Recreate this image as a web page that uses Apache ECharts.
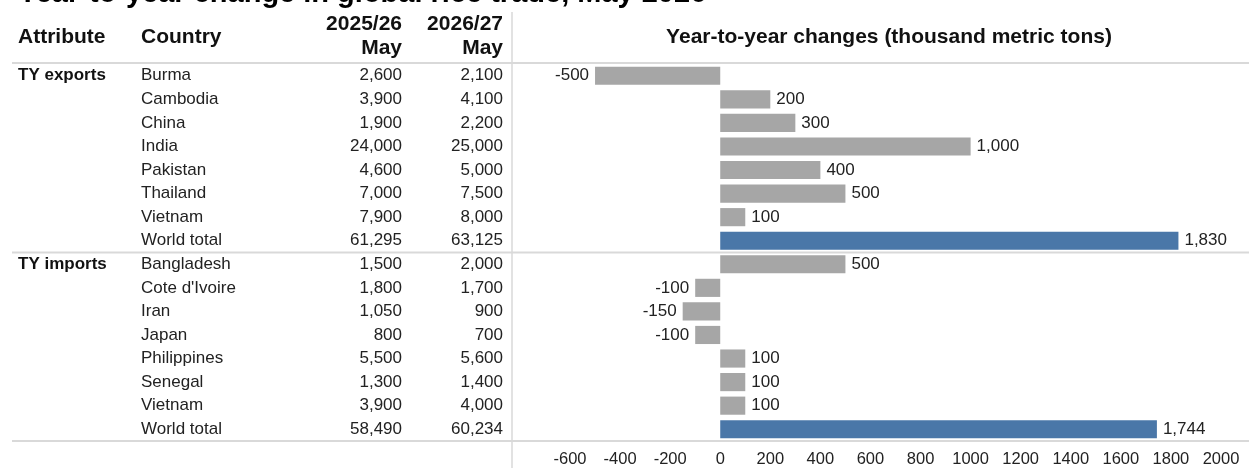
<!DOCTYPE html>
<html><head><meta charset="utf-8">
<script src="https://cdn.jsdelivr.net/npm/echarts@6/dist/echarts.min.js"></script>
<style>html,body{margin:0;padding:0;background:#fff}#c{width:1249px;height:468px}</style>
</head><body><div id="c"></div>
<script>
const titleText = 'Year-to-year change in global rice trade, May 2026';
const attributes = ['TY exports','','','','','','','','TY imports','','','','','','',''];
const countries = ['Burma','Cambodia','China','India','Pakistan','Thailand','Vietnam','World total',
  'Bangladesh',"Cote d'Ivoire",'Iran','Japan','Philippines','Senegal','Vietnam','World total'];
const may2526 = [2600,3900,1900,24000,4600,7000,7900,61295,1500,1800,1050,800,5500,1300,3900,58490];
const may2627 = [2100,4100,2200,25000,5000,7500,8000,63125,2000,1700,900,700,5600,1400,4000,60234];
const changes = [-500,200,300,1000,400,500,100,1830,500,-100,-150,-100,100,100,100,1744];
const totalRows = [7,15];
const xTicks = [-600,-400,-200,0,200,400,600,800,1000,1200,1400,1600,1800,2000];

const FONT = '"Liberation Sans", Arial, sans-serif';
const fmt = v => v.toLocaleString('en-US');
const GRID_LEFT = 570;
const chart = echarts.init(document.getElementById('c'), null, {renderer:'canvas'});

function catAxis(margin, align, formatter, extra) {
  return Object.assign({
    type:'category', data:countries, inverse:true, position:'left',
    axisLine:{show:false}, axisTick:{show:false}, splitLine:{show:false},
    axisLabel:{margin:margin, align:align, formatter:formatter, color:'#222',
      fontFamily:FONT, fontSize:17, interval:0}
  }, extra||{});
}

chart.setOption({
  animation:false,
  grid:{left:GRID_LEFT, right:28, top:64, bottom:27, containLabel:false},
  xAxis:{type:'value', min:xTicks[0], max:xTicks[xTicks.length-1], interval:200,
    axisLine:{show:false}, axisTick:{show:false}, splitLine:{show:false},
    axisLabel:{color:'#222', fontFamily:FONT, fontSize:16.5, margin:10, formatter:v=>String(v)}},
  yAxis:[
    catAxis(GRID_LEFT-141, 'left', (v,i)=>countries[i]),
    catAxis(GRID_LEFT-402, 'right', (v,i)=>fmt(may2526[i])),
    catAxis(GRID_LEFT-503, 'right', (v,i)=>fmt(may2627[i])),
    catAxis(GRID_LEFT-18, 'left', (v,i)=>attributes[i], {axisLabel:{margin:GRID_LEFT-18, align:'left',
      formatter:(v,i)=>attributes[i], color:'#111', fontWeight:'bold', fontFamily:FONT, fontSize:17, interval:0}})
  ],
  series:[{
    type:'bar', yAxisIndex:0, barWidth:'77%',
    data:changes.map((v,i)=>({value:v,
      itemStyle:{color: totalRows.includes(i) ? '#4a77a8' : '#a6a6a6'},
      label:{position: v<0 ? 'left' : 'right'}})),
    label:{show:true, distance:6, color:'#222', fontFamily:FONT, fontSize:17,
      formatter:p=>fmt(p.value)}
  }]
});

const yTop = chart.convertToPixel({yAxisIndex:0}, 0) ;
const yRow7 = chart.convertToPixel({yAxisIndex:0}, 7);
const yRow8 = chart.convertToPixel({yAxisIndex:0}, 8);
const yRow15 = chart.convertToPixel({yAxisIndex:0}, 15);
const half = (yRow8 - yRow7)/2;
const lineStyle = {stroke:'#d9d9d9', lineWidth:2};
const hdr = {fontFamily:FONT, fontWeight:'bold', fontSize:21, fill:'#111'};
chart.setOption({graphic:[
  {type:'line', shape:{x1:12,y1:yTop-half-1,x2:1249,y2:yTop-half-1}, style:lineStyle, silent:true},
  {type:'line', shape:{x1:12,y1:yRow7+half,x2:1249,y2:yRow7+half}, style:lineStyle, silent:true},
  {type:'line', shape:{x1:12,y1:yRow15+half,x2:1249,y2:yRow15+half}, style:lineStyle, silent:true},
  {type:'line', shape:{x1:512,y1:12,x2:512,y2:468}, style:{stroke:'#d9d9d9', lineWidth:1.5}, silent:true},
  {type:'text', x:18, y:-6, style:Object.assign({}, hdr, {text:titleText, fontSize:29, fill:'#000', textVerticalAlign:'middle'})},
  {type:'text', x:18, y:37, style:Object.assign({}, hdr, {text:'Attribute', textVerticalAlign:'middle'})},
  {type:'text', x:141, y:37, style:Object.assign({}, hdr, {text:'Country', textVerticalAlign:'middle'})},
  {type:'text', x:402, y:24, style:Object.assign({}, hdr, {text:'2025/26', textAlign:'right', textVerticalAlign:'middle'})},
  {type:'text', x:402, y:48, style:Object.assign({}, hdr, {text:'May', textAlign:'right', textVerticalAlign:'middle'})},
  {type:'text', x:503, y:24, style:Object.assign({}, hdr, {text:'2026/27', textAlign:'right', textVerticalAlign:'middle'})},
  {type:'text', x:503, y:48, style:Object.assign({}, hdr, {text:'May', textAlign:'right', textVerticalAlign:'middle'})},
  {type:'text', x:889, y:37, style:Object.assign({}, hdr, {text:'Year-to-year changes (thousand metric tons)', textAlign:'center', textVerticalAlign:'middle'})}
]});
</script></body></html>
